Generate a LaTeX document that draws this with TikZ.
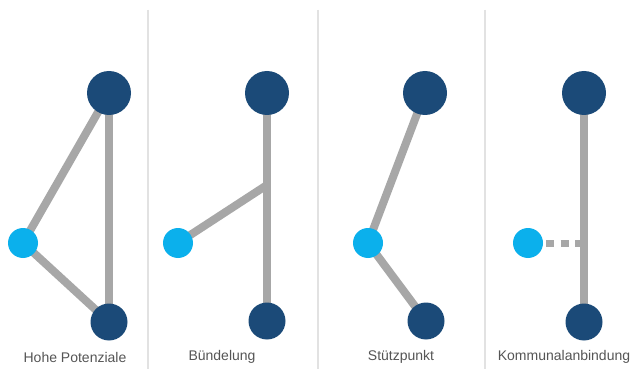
\documentclass[tikz,border=0pt]{standalone}
\usepackage{fontspec}
\setmainfont{Liberation Sans}
\usetikzlibrary{backgrounds}
\definecolor{darkb}{HTML}{1B4A78}
\definecolor{cyanb}{HTML}{0BB0EC}
\definecolor{linegray}{HTML}{A7A7A7}
\definecolor{sepgray}{HTML}{E2E2E2}
\definecolor{txtgray}{HTML}{555555}
\tikzset{
  bignode/.style={circle,fill=darkb,draw=none,minimum size=44pt,inner sep=0pt},
  smallnode/.style={circle,fill=darkb,draw=none,minimum size=37pt,inner sep=0pt},
  cnode/.style={circle,fill=cyanb,draw=none,minimum size=30pt,inner sep=0pt},
  conn/.style={draw=linegray,line width=8pt},
  dotconn/.style={draw=linegray,line width=7pt,dash pattern=on 8pt off 6.5pt},
  sep/.style={draw=sepgray,line width=1.5pt},
  lbl/.style={text=txtgray,font=\fontsize{14}{16}\selectfont,inner sep=0pt}
}
\begin{document}
\begin{tikzpicture}[x=1pt,y=-1pt]
\useasboundingbox (0,0) rectangle (630,369);
% separators
\coordinate (s1a) at (148,10); \coordinate (s1b) at (148,369);
\coordinate (s2a) at (318,10); \coordinate (s2b) at (318,369);
\coordinate (s3a) at (485,10); \coordinate (s3b) at (485,369);
\draw[sep] (s1a) -- (s1b);
\draw[sep] (s2a) -- (s2b);
\draw[sep] (s3a) -- (s3b);
% panel 1
\node[bignode] (t1) at (109,93) {};
\node[smallnode] (b1) at (109,322) {};
\node[cnode] (c1) at (23,243) {};
% panel 2
\node[bignode] (t2) at (267,93) {};
\node[smallnode] (b2) at (267,321) {};
\node[cnode] (c2) at (178,243) {};
\coordinate (j2) at (267,185);
% panel 3
\node[bignode] (t3) at (425,93) {};
\node[smallnode] (b3) at (426,321) {};
\node[cnode] (c3) at (368,243) {};
% panel 4
\node[bignode] (t4) at (584,93) {};
\node[smallnode] (b4) at (584,322) {};
\node[cnode] (c4) at (528,243) {};
\coordinate (k4) at (584,243);
\begin{scope}[on background layer]
\fill[white] (0,0) rectangle (630,369);
\draw[conn] (c1.center) -- (t1.center);
\draw[conn] (c1.center) -- (b1.center);
\draw[conn] (t1.center) -- (b1.center);
\draw[conn] (t2.center) -- (b2.center);
\draw[conn] (c2.center) -- (j2);
\draw[conn] (c3.center) -- (t3.center);
\draw[conn] (c3.center) -- (b3.center);
\draw[conn] (t4.center) -- (b4.center);
\draw[dotconn] ([xshift=3pt]c4.east) -- (k4);
\end{scope}
% labels
\node[lbl] (l1) at (75,357) {Hohe Potenziale};
\node[lbl] (l2) at (222,357) {Bündelung};
\node[lbl] (l3) at (401,357) {Stützpunkt};
\node[lbl] (l4) at (564,357) {Kommunalanbindung};
\end{tikzpicture}
\end{document}
